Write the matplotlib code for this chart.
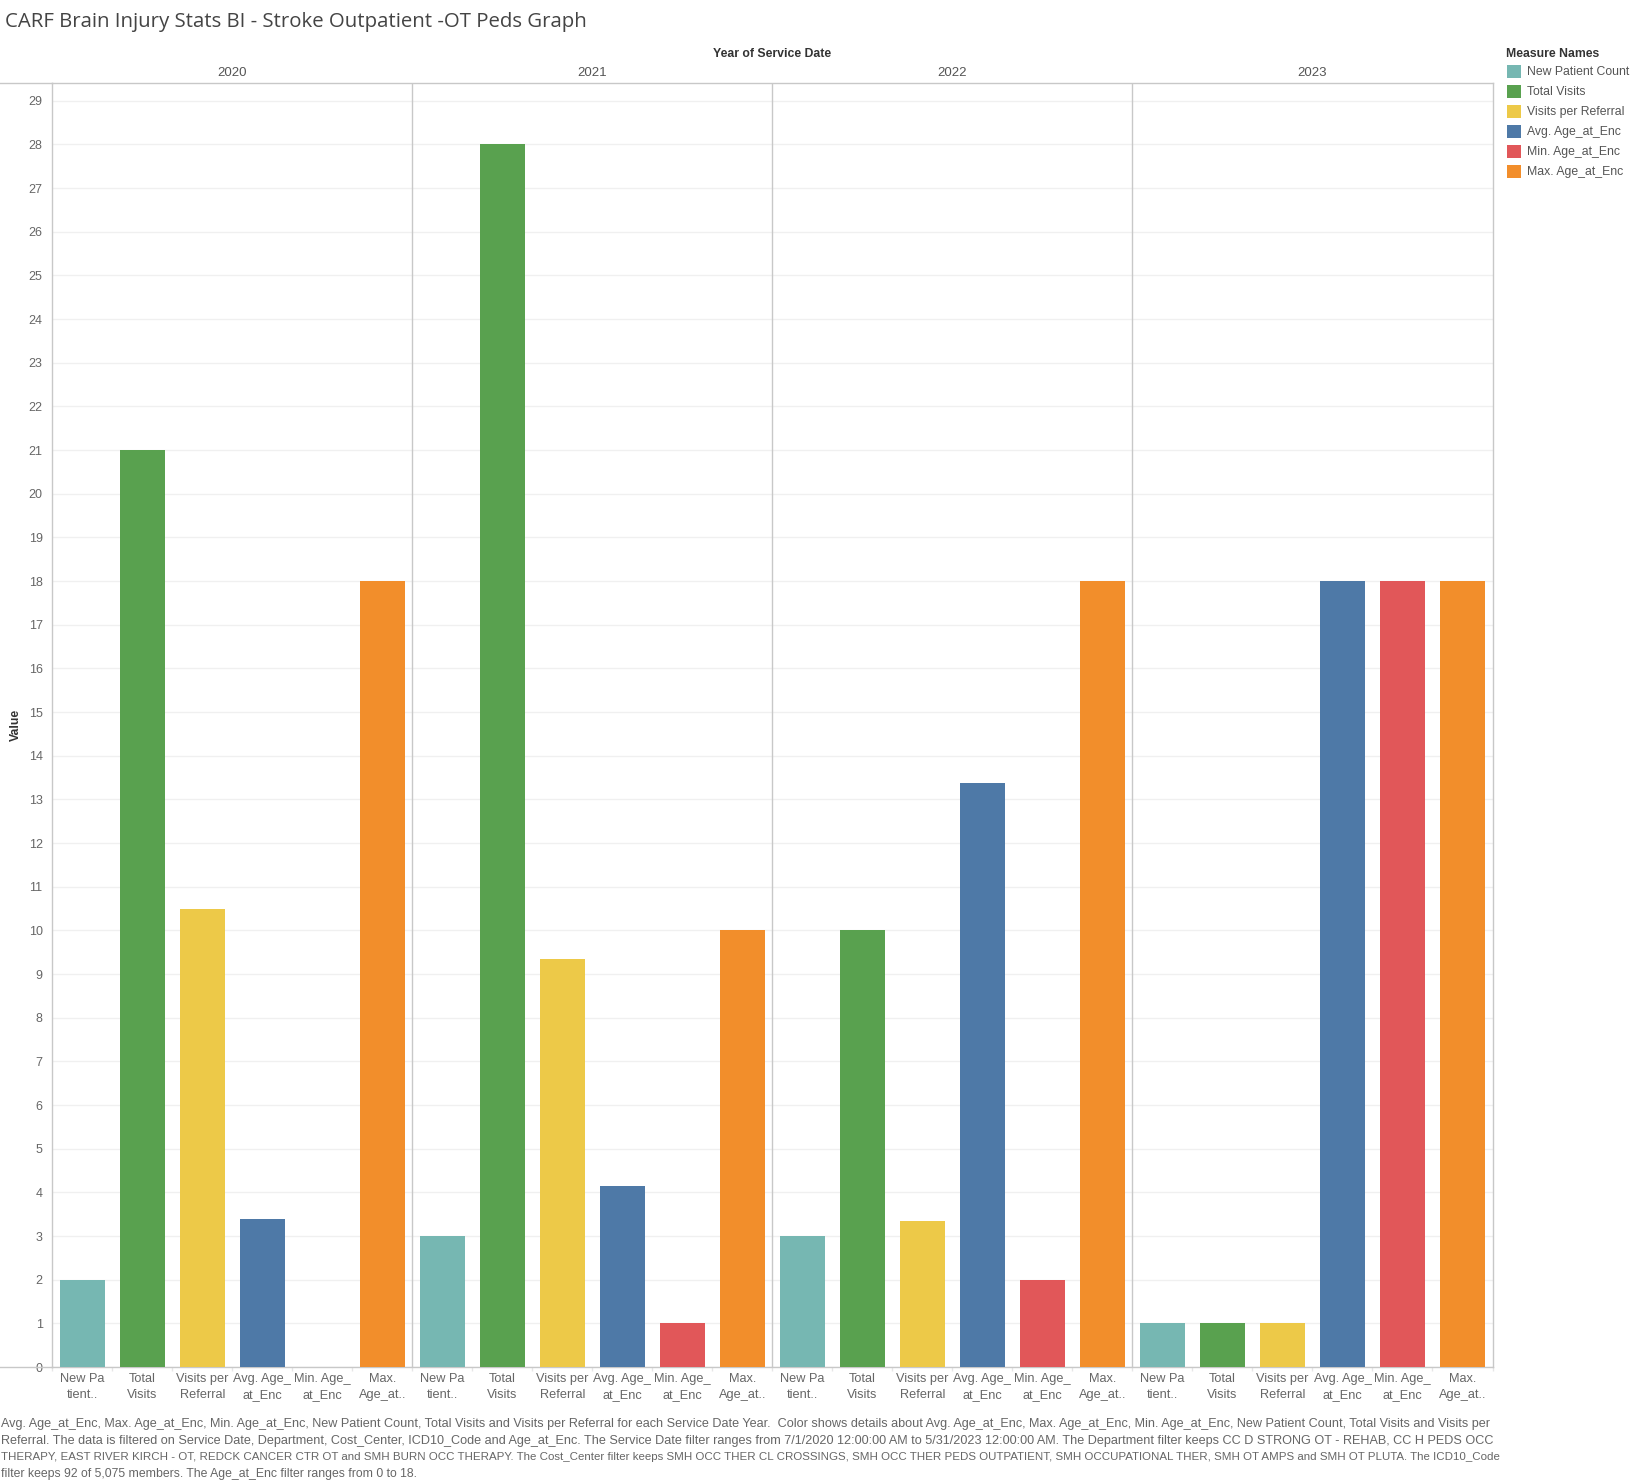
import numpy as np
import matplotlib
matplotlib.use("Agg")
import matplotlib.pyplot as plt
from matplotlib.lines import Line2D
from matplotlib.patches import Rectangle
from matplotlib.transforms import blended_transform_factory

plt.rcParams["font.family"] = ["Liberation Sans Narrow", "Liberation Sans", "DejaVu Sans"]

# ── data ────────────────────────────────────────────────────────────────
years = ["2020", "2021", "2022", "2023"]
measures = ["New Patient Count", "Total Visits", "Visits per Referral",
            "Avg. Age_at_Enc", "Min. Age_at_Enc", "Max. Age_at_Enc"]
tick_names = ["New Pa\ntient..", "Total\nVisits", "Visits per\nReferral",
              "Avg. Age_\nat_Enc", "Min. Age_\nat_Enc", "Max.\nAge_at.."]

new_patient = [2, 3, 3, 1]
total_visits = [21, 28, 10, 1]
visits_per_referral = [10.5, 9.35, 3.35, 1]
avg_age = [3.4, 4.14, 13.37, 18]
min_age = [0, 1, 2, 18]
max_age = [18, 10, 18, 18]

series = [new_patient, total_visits, visits_per_referral, avg_age, min_age, max_age]

COLORS = ["#76B7B2", "#59A14F", "#EDC948", "#4E79A7", "#E15759", "#F28E2B"]
GRID = "#f0f0f0"
AXIS = "#c8c8c8"
TXT = "#666666"
DARK = "#333333"

footnote = [
    "Avg. Age_at_Enc, Max. Age_at_Enc, Min. Age_at_Enc, New Patient Count, Total Visits and Visits per Referral for each Service Date Year.  Color shows details about Avg. Age_at_Enc, Max. Age_at_Enc, Min. Age_at_Enc, New Patient Count, Total Visits and Visits per",
    "Referral. The data is filtered on Service Date, Department, Cost_Center, ICD10_Code and Age_at_Enc. The Service Date filter ranges from 7/1/2020 12:00:00 AM to 5/31/2023 12:00:00 AM. The Department filter keeps CC D STRONG OT - REHAB, CC H PEDS OCC",
    "THERAPY, EAST RIVER KIRCH - OT, REDCK CANCER CTR OT and SMH BURN OCC THERAPY. The Cost_Center filter keeps SMH OCC THER CL CROSSINGS, SMH OCC THER PEDS OUTPATIENT, SMH OCCUPATIONAL THER, SMH OT AMPS and SMH OT PLUTA. The ICD10_Code",
    "filter keeps 92 of 5,075 members. The Age_at_Enc filter ranges from 0 to 18.",
]

# ── figure ──────────────────────────────────────────────────────────────
W, H = 1644, 1484
fig = plt.figure(figsize=(W / 100, H / 100), dpi=100)
ax_l, ax_r, ax_t, ax_b = 52.3, 1492.5, 83.3, 1367
ax = fig.add_axes([ax_l / W, 1 - ax_b / H, (ax_r - ax_l) / W, (ax_b - ax_t) / H])

n_m = len(measures)
for j, (vals, col) in enumerate(zip(series, COLORS)):
    x = np.arange(len(years)) * n_m + j
    ax.bar(x, vals, width=0.75, color=col, zorder=3)

n_slots = len(years) * n_m
ax.set_xlim(-0.5, n_slots - 0.5)
ax.set_ylim(0, 29.4)

ax.set_yticks(range(0, 30))
ax.yaxis.grid(True, color=GRID, lw=1, zorder=0)
ax.tick_params(axis="y", length=0, pad=7, labelsize=9, labelcolor=TXT)

ax.set_xticks(range(n_slots))
ax.set_xticklabels(tick_names * len(years), fontsize=9.2, color=TXT, linespacing=1.5)
ax.tick_params(axis="x", which="major", length=0, pad=4)
ax.set_xticks(np.arange(-0.5, n_slots, 1), minor=True)
ax.tick_params(axis="x", which="minor", length=3, color="#e6e6e6", width=1)

for sp in ax.spines.values():
    sp.set_color(AXIS)
    sp.set_linewidth(1)

for k in range(1, len(years)):
    ax.axvline(k * n_m - 0.5, color=AXIS, lw=1, zorder=2)

# top / bottom rules run left to the figure edge
for yy in (ax_t, ax_b):
    fig.add_artist(Line2D([0, ax_l / W], [1 - yy / H] * 2, color=AXIS, lw=1))

# column headers
tr = blended_transform_factory(ax.transData, fig.transFigure)
for k, yr in enumerate(years):
    ax.text(k * n_m + (n_m - 1) / 2, 1 - 73 / H, yr, transform=tr,
            ha="center", va="center", fontsize=9.5, color="#555555")
fig.text((ax_l + ax_r) / 2 / W, 1 - 54 / H, "Year of Service Date",
         ha="center", va="center", fontsize=8.8, fontweight="bold", color=DARK)

fig.text(16 / W, 1 - (ax_t + ax_b) / 2 / H, "Value", rotation=90,
         ha="center", va="center", fontsize=8.8, fontweight="bold", color=DARK)

renderer = fig.canvas.get_renderer()

title = fig.text(5 / W, 1 - 22 / H,
                 "CARF Brain Injury Stats BI - Stroke Outpatient -OT Peds Graph",
                 ha="left", va="center", fontsize=13.5, color="#444444",
                 family=["Open Sans", "DejaVu Sans"])
title.set_fontsize(13.5 * 580 / title.get_window_extent(renderer).width)

# legend
fig.text(1506 / W, 1 - 54 / H, "Measure Names", ha="left", va="center",
         fontsize=8.8, fontweight="bold", color=DARK)
for i, (name, col) in enumerate(zip(measures, COLORS)):
    yc = 71.7 + 20 * i
    fig.add_artist(Rectangle((1506.7 / W, 1 - (yc + 6.5) / H), 14 / W, 13 / H,
                             transform=fig.transFigure, facecolor=col, edgecolor="none"))
    fig.text(1526.7 / W, 1 - yc / H, name, ha="left", va="center",
             fontsize=8.8, color="#555555")

# footnote – the wrapped lines fill the chart width like the original
for i, line in enumerate(footnote):
    t = fig.text(1 / W, 1 - (1424 + 16.7 * i) / H, line, ha="left", va="center",
                 fontsize=8.8, color=TXT)
    if i < len(footnote) - 1:
        w = t.get_window_extent(renderer).width
        t.set_fontsize(8.8 * 1494 / w)

fig.savefig("out.png", dpi=100)
